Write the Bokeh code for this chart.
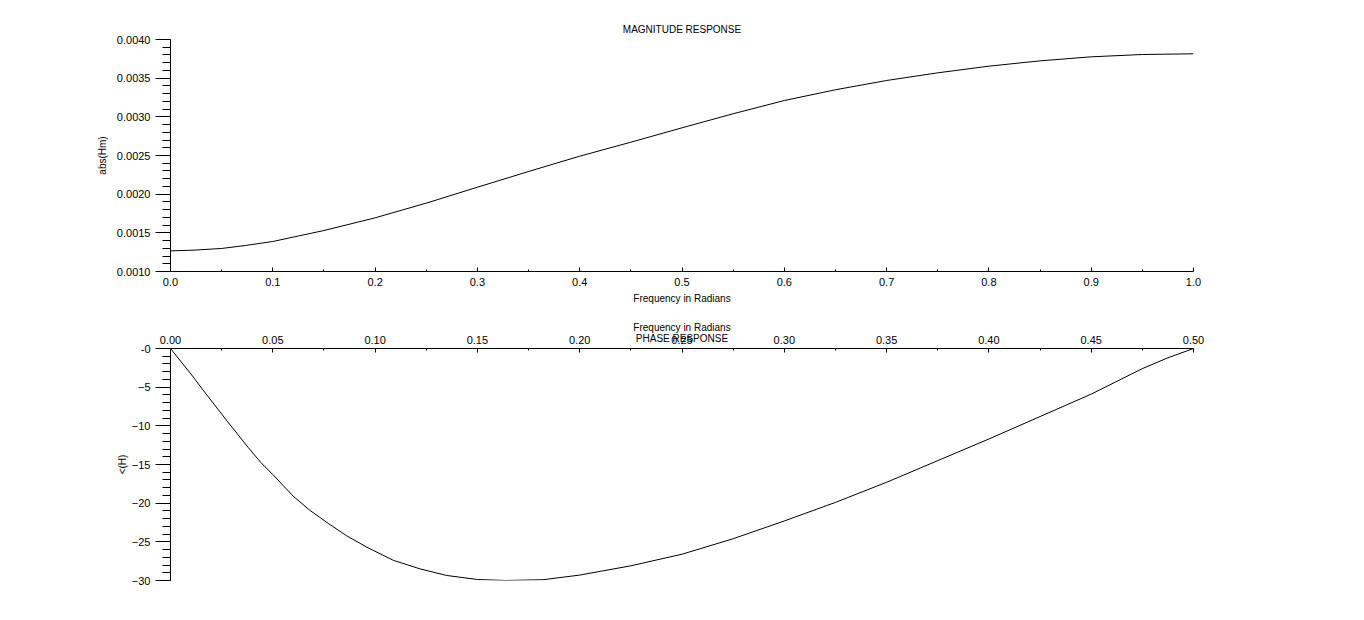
from bokeh.plotting import figure
from bokeh.layouts import column
from bokeh.models import FixedTicker, PrintfTickFormatter, Range1d
from bokeh.embed import file_html
from bokeh.resources import INLINE

# Magnitude response
mag_freq = [0.0, 0.023, 0.05, 0.073, 0.1, 0.15, 0.2, 0.25, 0.3, 0.35, 0.4, 0.45, 0.5,
            0.55, 0.6, 0.65, 0.7, 0.75, 0.8, 0.85, 0.9, 0.95, 1.0]
mag_vals = [0.001267, 0.001276, 0.001298, 0.001336, 0.001388, 0.00153, 0.001694, 0.001884,
            0.00209, 0.002293, 0.002491, 0.002672, 0.002858, 0.00304, 0.003211, 0.00335,
            0.00347, 0.003569, 0.003655, 0.003724, 0.003776, 0.003806, 0.003815]

# Phase response
ph_freq = [0.0, 0.01, 0.016, 0.028, 0.038, 0.044, 0.05, 0.06, 0.068, 0.077, 0.086,
           0.096, 0.109, 0.122, 0.135, 0.15, 0.164, 0.182, 0.2, 0.225, 0.25, 0.275,
           0.3, 0.325, 0.35, 0.375, 0.4, 0.425, 0.45, 0.475, 0.4875, 0.5]
ph_vals = [0.0, -3.3, -5.4, -9.5, -12.8, -14.7, -16.3, -19.1, -20.9, -22.6, -24.2,
           -25.7, -27.4, -28.5, -29.35, -29.87, -30.0, -29.9, -29.3, -28.1, -26.6, -24.6,
           -22.3, -19.9, -17.3, -14.5, -11.7, -8.8, -5.9, -2.6, -1.2, 0.0]

mag_xticks = [0.0, 0.1, 0.2, 0.3, 0.4, 0.5, 0.6, 0.7, 0.8, 0.9, 1.0]
mag_xminor = [0.05, 0.15, 0.25, 0.35, 0.45, 0.55, 0.65, 0.75, 0.85, 0.95]
mag_yticks = [0.0010, 0.0015, 0.0020, 0.0025, 0.0030, 0.0035, 0.0040]
mag_yminor = [0.0010 + 0.0001 * i for i in range(31)]
ph_xticks = [0.0, 0.05, 0.1, 0.15, 0.2, 0.25, 0.3, 0.35, 0.4, 0.45, 0.5]
ph_xminor = [0.025, 0.075, 0.125, 0.175, 0.225, 0.275, 0.325, 0.375, 0.425, 0.475]
ph_yticks = [-30, -25, -20, -15, -10, -5, 0]
ph_yminor = list(range(-30, 1))

FONT = "Liberation Sans"


def style_axis(ax, tick_in, tick_out, minor_in, minor_out):
    ax.axis_line_color = "black"
    ax.major_tick_line_color = "black"
    ax.minor_tick_line_color = "black"
    ax.major_tick_in = tick_in
    ax.major_tick_out = tick_out
    ax.minor_tick_in = minor_in
    ax.minor_tick_out = minor_out
    ax.major_label_text_font = FONT
    ax.major_label_text_font_size = "11px"
    ax.major_label_text_color = "black"
    ax.axis_label_text_font = FONT
    ax.axis_label_text_font_size = "10px"
    ax.axis_label_text_font_style = "normal"
    ax.axis_label_text_color = "black"


p1 = figure(width=1364, height=310, x_range=Range1d(0, 1), y_range=Range1d(0.001, 0.004),
            output_backend="svg", toolbar_location=None,
            min_border_left=170, min_border_right=171, min_border_top=39, min_border_bottom=39)
p1.outline_line_color = None
p1.xgrid.visible = False
p1.ygrid.visible = False
p1.title.text = "MAGNITUDE RESPONSE"
p1.title.align = "center"
p1.title.text_font = FONT
p1.title.text_font_size = "10px"
p1.title.text_font_style = "normal"
p1.title.text_color = "black"
p1.line(mag_freq, mag_vals, line_color="black", line_width=1)

xa = p1.xaxis[0]
xa.ticker = FixedTicker(ticks=mag_xticks, minor_ticks=mag_xminor)
xa.formatter = PrintfTickFormatter(format="%.1f")
xa.axis_label = "Frequency in Radians"
style_axis(xa, 4, 0, 2, 0)
xa.major_label_standoff = 6
xa.axis_label_standoff = 4

ya = p1.yaxis[0]
ya.ticker = FixedTicker(ticks=mag_yticks, minor_ticks=mag_yminor)
ya.formatter = PrintfTickFormatter(format="%.4f")
ya.axis_label = "abs(Hm)"
style_axis(ya, 0, 15, 0, 8)
ya.major_label_standoff = 5
ya.axis_label_standoff = 6

p2 = figure(width=1364, height=310, x_range=Range1d(0, 0.5), y_range=Range1d(-30, 0),
            output_backend="svg", toolbar_location=None, x_axis_location="above",
            min_border_left=170, min_border_right=171, min_border_top=38, min_border_bottom=40)
p2.outline_line_color = None
p2.xgrid.visible = False
p2.ygrid.visible = False
p2.line(ph_freq, ph_vals, line_color="black", line_width=1)

xb = p2.xaxis[0]
xb.ticker = FixedTicker(ticks=ph_xticks, minor_ticks=ph_xminor)
xb.formatter = PrintfTickFormatter(format="%.2f")
xb.axis_label = "Frequency in Radians\nPHASE RESPONSE"
style_axis(xb, 4, 0, 2, 0)
xb.axis_label_text_line_height = 1.0
xb.major_label_standoff = 5
xb.axis_label_standoff = -11

yb = p2.yaxis[0]
yb.ticker = FixedTicker(ticks=ph_yticks, minor_ticks=ph_yminor)
yb.major_label_overrides = {0: "-0"}
yb.axis_label = "<(H)"
style_axis(yb, 0, 15, 0, 8)
yb.major_label_standoff = 5
yb.axis_label_standoff = 1

layout = column(p1, p2, spacing=0)
open("out.html", "w").write(file_html(layout, INLINE))
